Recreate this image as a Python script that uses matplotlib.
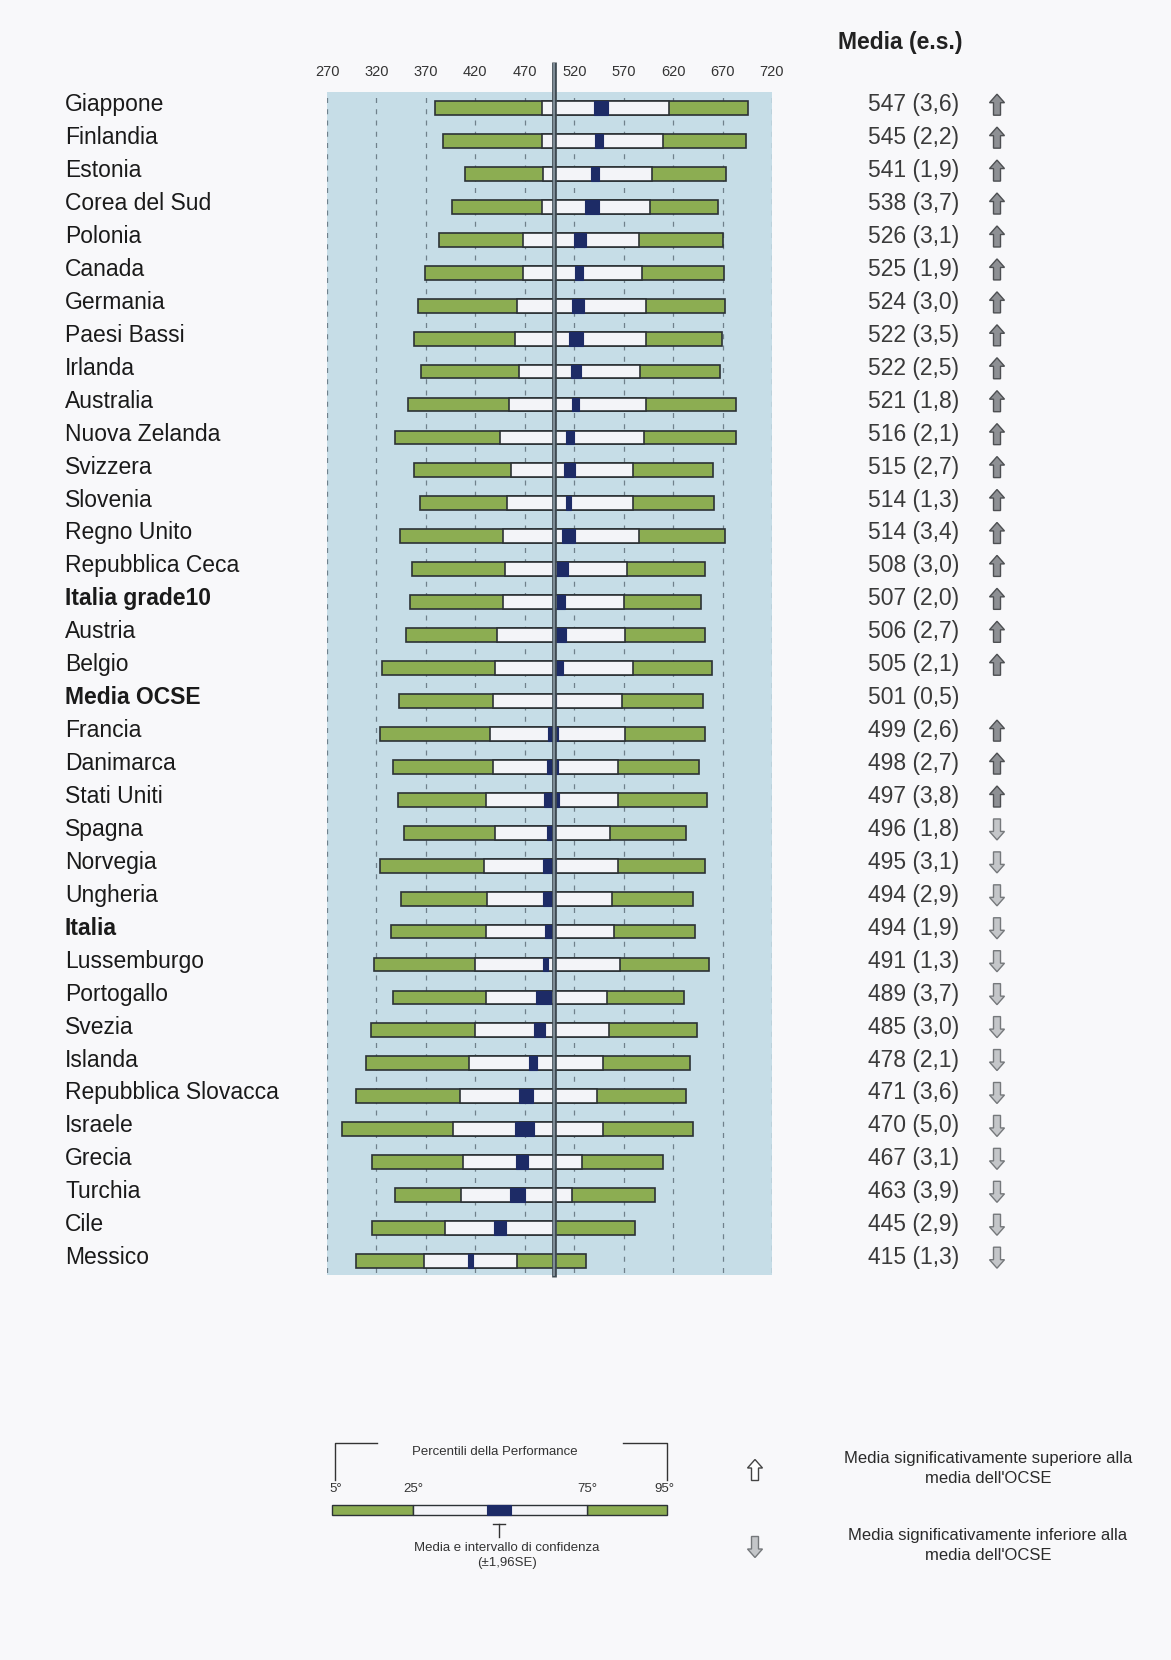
import matplotlib
matplotlib.use("Agg")
import matplotlib.pyplot as plt
from matplotlib.patches import Polygon
from matplotlib.transforms import blended_transform_factory

plt.rcParams['font.family'] = ['Liberation Sans', 'DejaVu Sans']

paesi = ['Giappone', 'Finlandia', 'Estonia', 'Corea del Sud', 'Polonia', 'Canada',
         'Germania', 'Paesi Bassi', 'Irlanda', 'Australia', 'Nuova Zelanda', 'Svizzera',
         'Slovenia', 'Regno Unito', 'Repubblica Ceca', 'Italia grade10', 'Austria', 'Belgio',
         'Media OCSE', 'Francia', 'Danimarca', 'Stati Uniti', 'Spagna', 'Norvegia',
         'Ungheria', 'Italia', 'Lussemburgo', 'Portogallo', 'Svezia', 'Islanda',
         'Repubblica Slovacca', 'Israele', 'Grecia', 'Turchia', 'Cile', 'Messico']
media = [547, 545, 541, 538, 526, 525, 524, 522, 522, 521, 516, 515,
         514, 514, 508, 507, 506, 505, 501, 499, 498, 497, 496, 495,
         494, 494, 491, 489, 485, 478, 471, 470, 467, 463, 445, 415]
es = [3.6, 2.2, 1.9, 3.7, 3.1, 1.9, 3.0, 3.5, 2.5, 1.8, 2.1, 2.7,
      1.3, 3.4, 3.0, 2.0, 2.7, 2.1, 0.5, 2.6, 2.7, 3.8, 1.8, 3.1,
      2.9, 1.9, 1.3, 3.7, 3.0, 2.1, 3.6, 5.0, 3.1, 3.9, 2.9, 1.3]
p5 = [379, 387, 410, 396, 383, 369, 362, 358, 365, 352, 339, 358,
      364, 344, 356, 354, 350, 326, 343, 324, 337, 342, 348, 324,
      345, 335, 318, 337, 314, 309, 299, 285, 316, 339, 316, 299]
p25 = [487, 487, 488, 487, 468, 468, 462, 460, 464, 454, 445, 456,
       452, 448, 450, 448, 442, 440, 438, 435, 438, 431, 440, 429,
       432, 431, 420, 431, 420, 414, 404, 397, 408, 405, 389, 368]
p75 = [616, 610, 599, 597, 585, 589, 593, 593, 587, 593, 591, 579,
       579, 585, 573, 570, 571, 579, 568, 571, 564, 564, 556, 564,
       558, 560, 566, 553, 555, 549, 543, 549, 528, 518, 500, 462]
p95 = [696, 694, 673, 665, 670, 671, 672, 669, 667, 684, 684, 660,
       661, 672, 652, 648, 652, 659, 650, 652, 646, 654, 633, 652,
       640, 642, 656, 631, 644, 637, 633, 640, 610, 602, 581, 532]
# 1 = sopra la media OCSE, -1 = sotto, 0 = nessuna freccia
segno = [1] * 18 + [0] + [1, 1, 1] + [-1] * 14
grassetto = ['Italia grade10', 'Media OCSE', 'Italia']
tacche = [270, 320, 370, 420, 470, 520, 570, 620, 670, 720]

W, H = 1171, 1660
VERDE = '#8cad52'
BLU = '#1d2b66'
BIANCO = '#f3f4f8'
BORDO = '#2c3236'

fig = plt.figure(figsize=(W / 100, H / 100), dpi=100)
fig.patch.set_facecolor('#f8f8fa')

ax = fig.add_axes([327 / W, 1 - 1275 / H, 445 / W, 1183 / H])
riga = 32.94
ax.set_xlim(270, 720)
ax.set_ylim(len(paesi) - 1 + 14 / riga, -16 / riga)
ax.set_facecolor('#c6dde7')
for s in ax.spines.values():
    s.set_visible(False)
ax.set_xticks(tacche)
ax.set_yticks([])
ax.xaxis.tick_top()
ax.tick_params(axis='x', length=0, pad=9, labelsize=10.5, labelcolor='#333333')
ax.vlines(tacche, -1, len(paesi) + 1, colors='#6f808b', linestyles=(0, (4, 5)), lw=0.9, zorder=1)

y = list(range(len(paesi)))
h = 0.42
ax.barh(y, [b - a for a, b in zip(p5, p95)], left=p5, height=h,
        color=VERDE, edgecolor=BORDO, lw=1.2, zorder=2)
ax.barh(y, [b - a for a, b in zip(p25, p75)], left=p25, height=h,
        color=BIANCO, edgecolor=BORDO, lw=1.2, zorder=3)
ax.barh(y, [2 * 1.96 * e for e in es], left=[m - 1.96 * e for m, e in zip(media, es)],
        height=h, color=BLU, edgecolor=BLU, lw=0.8, zorder=4)

# linea della media OCSE
ax.plot([500, 500], [len(paesi) - 1 + 16 / riga, -46 / riga], color='#3f4a52', lw=3.4,
        clip_on=False, zorder=6, solid_capstyle='butt')
ax.plot([500, 500], [len(paesi) - 1 + 15 / riga, -45 / riga], color='#8b9aa4', lw=1.2,
        clip_on=False, zorder=7, solid_capstyle='butt')

tr = blended_transform_factory(fig.transFigure, ax.transData)
for i, nome in enumerate(paesi):
    ax.text(65 / W, i - 0.1, nome, transform=tr, ha='left', va='center', fontsize=16.5,
            color='#1a1a1a', fontweight='bold' if nome in grassetto else 'normal')
    testo = f"{media[i]} ({es[i]:.1f})".replace('.', ',')
    ax.text(868 / W, i - 0.1, testo, transform=tr, ha='left', va='center',
            fontsize=16.5, color='#3a3a3a')

fig.text(900 / W, 1 - 42 / H, 'Media (e.s.)', ha='center', va='center',
         fontsize=16.5, fontweight='bold', color='#222222')

# frecce di significatività
ax_f = fig.add_axes([0, 1 - 1275 / H, 1, 1183 / H])
ax_f.set_xlim(0, W)
ax_f.set_ylim(ax.get_ylim())
ax_f.axis('off')


def freccia(axx, cx, cy, su, fc, ec, sy=riga, lw=1.0):
    # assi con y verso il basso: sy = pixel per unità di y
    forma = [(0, 10.5), (7.5, 2), (3.5, 2), (3.5, -10.5), (-3.5, -10.5), (-3.5, 2), (-7.5, 2)]
    k = 1 if su else -1
    pts = [(cx + dx, cy - k * dy / sy) for dx, dy in forma]
    axx.add_patch(Polygon(pts, closed=True, fc=fc, ec=ec, lw=lw, joinstyle='miter'))


for i, s in enumerate(segno):
    if s == 1:
        freccia(ax_f, 997, i - 0.1, True, '#8e9094', '#4d4f52')
    elif s == -1:
        freccia(ax_f, 997, i - 0.1, False, '#c4c6c9', '#75787b')

# legenda
ax_l = fig.add_axes([0, 0, 1, 1])
ax_l.set_xlim(0, W)
ax_l.set_ylim(H, 0)
ax_l.axis('off')
ax_l.add_patch(plt.Rectangle((332, 1505), 81, 10, fc=VERDE, ec=BORDO, lw=1))
ax_l.add_patch(plt.Rectangle((587, 1505), 80, 10, fc=VERDE, ec=BORDO, lw=1))
ax_l.add_patch(plt.Rectangle((413, 1505), 174, 10, fc=BIANCO, ec=BORDO, lw=1))
ax_l.add_patch(plt.Rectangle((487, 1505), 24, 10, fc=BLU, ec=BLU, lw=0.8))
ax_l.plot([335, 335, 377], [1480, 1443, 1443], color='#333333', lw=1)
ax_l.plot([623, 667, 667], [1443, 1443, 1480], color='#333333', lw=1)
ax_l.plot([499, 499], [1524, 1537], color='#333333', lw=1)
ax_l.plot([493, 505], [1524, 1524], color='#333333', lw=1)
ax_l.text(495, 1452, 'Percentili della Performance', ha='center', va='center', fontsize=9.5, color='#333333')
for xx, lab in [(336, '5°'), (413, '25°'), (587, '75°'), (664, '95°')]:
    ax_l.text(xx, 1489, lab, ha='center', va='center', fontsize=9.5, color='#333333')
ax_l.text(507, 1548, 'Media e intervallo di confidenza', ha='center', va='center', fontsize=9.5, color='#333333')
ax_l.text(507, 1563, '(±1,96SE)', ha='center', va='center', fontsize=9.5, color='#333333')

freccia(ax_l, 755, 1470, True, '#ffffff', '#444444', sy=1)
freccia(ax_l, 755, 1547, False, '#c4c6c9', '#75787b', sy=1)
ax_l.text(988, 1458, 'Media significativamente superiore alla', ha='center', va='center',
          fontsize=12, color='#2a2a2a')
ax_l.text(988, 1478, "media dell'OCSE", ha='center', va='center', fontsize=12, color='#2a2a2a')
ax_l.text(988, 1535, 'Media significativamente inferiore alla', ha='center', va='center',
          fontsize=12, color='#2a2a2a')
ax_l.text(988, 1555, "media dell'OCSE", ha='center', va='center', fontsize=12, color='#2a2a2a')

fig.savefig('out.png', dpi=100, facecolor=fig.get_facecolor())
